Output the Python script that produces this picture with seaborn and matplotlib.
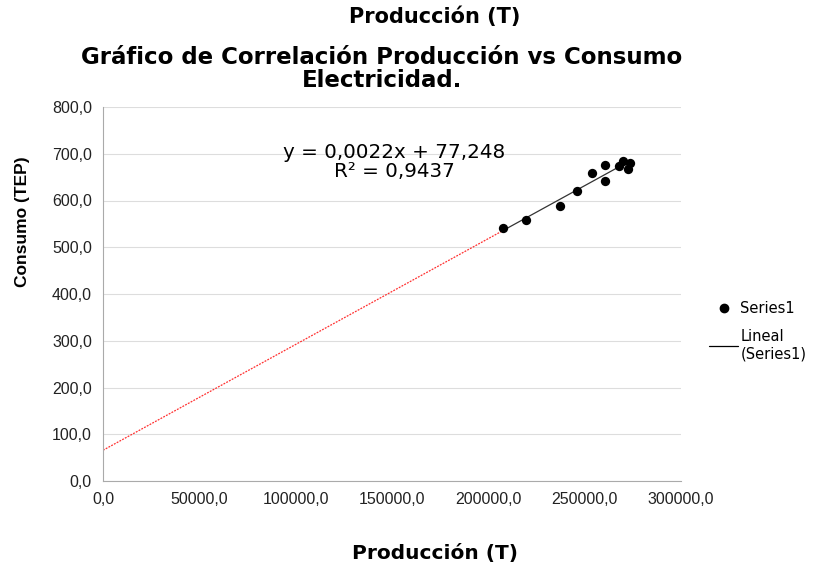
import numpy as np
import pandas as pd
import matplotlib
matplotlib.use("Agg")
import matplotlib.pyplot as plt
import seaborn as sns
from matplotlib.ticker import FuncFormatter
from matplotlib.lines import Line2D

# valores
produccion = [207800, 219400, 237200, 245800, 253700, 260700, 260700, 268000, 270100, 273500, 272700]
consumo = [540.5, 558.3, 588.9, 621.0, 657.8, 676.9, 642.0, 674.8, 685.5, 679.8, 667.4]

df = pd.DataFrame({"Producción": produccion, "Consumo": consumo})

sns.set_style("white")
plt.rcParams["font.family"] = ["Liberation Sans", "DejaVu Sans"]
plt.rcParams["text.color"] = "black"
wide = ["DejaVu Sans"]

fig = plt.figure(figsize=(8.13, 5.67), dpi=100)
ax = fig.add_axes([103 / 813, 1 - 481 / 567, 578 / 813, 374 / 567])

# recta de tendencia
m, b = np.polyfit(df["Producción"], df["Consumo"], 1)
xmin, xmax = df["Producción"].min(), df["Producción"].max()
xs_back = np.array([0, xmin])
ax.plot(xs_back, m * xs_back + b, color="#ff3030", lw=0.9, ls=(0, (1.5, 1)), zorder=2)
xs = np.array([xmin, xmax])
ax.plot(xs, m * xs + b, color="#333333", lw=0.9, zorder=2)

sns.scatterplot(data=df, x="Producción", y="Consumo", ax=ax, color="black",
                s=45, edgecolor="black", linewidth=0, zorder=3, legend=False)

ax.set_xlim(0, 300000)
ax.set_ylim(0, 800)
ax.set_xticks(np.arange(0, 300001, 50000))
ax.set_yticks(np.arange(0, 801, 100))
fmt = FuncFormatter(lambda v, p: f"{v:.1f}".replace(".", ","))
ax.xaxis.set_major_formatter(fmt)
ax.yaxis.set_major_formatter(fmt)
ax.tick_params(axis="both", labelsize=11.5, colors="#222222")
ax.tick_params(axis="x", length=5, width=0.8, color="#aaaaaa", direction="out", pad=3)
ax.tick_params(axis="y", length=5, width=0.8, color="#aaaaaa", direction="out", pad=3)
ax.grid(axis="y", color="#dddddd", lw=0.8)
ax.grid(axis="x", visible=False)
for s in ["top", "right"]:
    ax.spines[s].set_visible(False)
for s in ["left", "bottom"]:
    ax.spines[s].set_color("#aaaaaa")
    ax.spines[s].set_linewidth(0.8)

ax.set_xlabel("")
ax.set_ylabel("")
fig.text(23 / 813, 1 - 222 / 567, "Consumo (TEP)", fontsize=12.5, fontweight="bold",
         rotation=90, ha="center", va="center")

fig.text(435 / 813, 1 - 553 / 567, "Producción (T)", fontsize=14.5, fontweight="bold",
         ha="center", va="center", family=wide)
fig.text(435 / 813, 1 - 17 / 567, "Producción (T)", fontsize=15, fontweight="bold",
         ha="center", va="center", family=wide)
fig.text(382 / 813, 1 - 69 / 567, "Gráfico de Correlación Producción vs Consumo\nElectricidad.",
         fontsize=16.5, fontweight="bold", ha="center", va="center", linespacing=1.0, family=wide)

fig.text(394 / 813, 1 - 162 / 567, "y = 0,0022x + 77,248\nR² = 0,9437",
         fontsize=14.3, ha="center", va="center", linespacing=1.05, family=wide)

handles = [Line2D([], [], marker="o", color="black", ls="none", markersize=6),
           Line2D([], [], color="black", lw=0.9)]
fig.legend(handles, ["Series1", "Lineal\n(Series1)"], loc="center left",
           bbox_to_anchor=(709 / 813, 1 - 331 / 567), frameon=False,
           prop={"family": wide, "size": 10.5}, borderpad=0, borderaxespad=0,
           handlelength=2.0, handletextpad=0.15, labelspacing=0.9)

fig.savefig("out.png", dpi=100)
